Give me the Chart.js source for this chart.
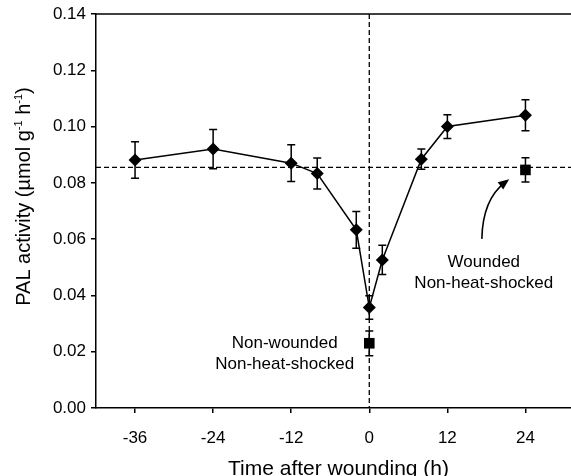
<!DOCTYPE html>
<html>
<head>
<meta charset="utf-8">
<script src="https://cdn.jsdelivr.net/npm/chart.js@4/dist/chart.umd.min.js"></script>
<style>
  body { margin: 0; background: #fff; }
  canvas { display: block; }
</style>
</head>
<body>
<canvas id="myChart" width="571" height="476"></canvas>
<script>
// wounded, non-heat-shocked series (diamonds)
const woundX = [-36, -24, -12, -8, -2, 0, 2, 8, 12, 24];
const woundY = [0.0881, 0.0920, 0.0870, 0.0833, 0.0633, 0.0357, 0.0526, 0.0884, 0.1000, 0.1040];
const woundErr = [0.0065, 0.0070, 0.0065, 0.0055, 0.0065, 0.0042, 0.0052, 0.0036, 0.0042, 0.0055];

// controls (squares)
const ctrlX = [0, 24];
const ctrlY = [0.0230, 0.0846];
const ctrlErr = [0.0044, 0.0043];

// reference lines
const baseLevel = 0.0855;
const woundTime = 0;

const xTicks = [-36, -24, -12, 0, 12, 24];
const yTicks = [0, 0.02, 0.04, 0.06, 0.08, 0.10, 0.12, 0.14];

// annotation texts, in data units
const notes = [
  { x: 17.6, y: 0.0519, text: 'Wounded' },
  { x: 17.6, y: 0.0443, text: 'Non-heat-shocked' },
  { x: -13.0, y: 0.0231, text: 'Non-wounded' },
  { x: -13.0, y: 0.0156, text: 'Non-heat-shocked' }
];
// arrow path, in data units: start, control 1, control 2, tip
const arrowPts = [[17.3, 0.0601], [17.4, 0.0722], [19.3, 0.0774], [21.5, 0.0813]];

const FONT = '"Liberation Sans", Arial, sans-serif';

function toPts(xs, ys) {
  return xs.map((x, i) => ({ x: x, y: ys[i] }));
}

const extras = {
  id: 'extras',
  beforeDatasetsDraw(chart) {
    const ctx = chart.ctx;
    const xs = chart.scales.x, ys = chart.scales.y;
    const a = chart.chartArea;
    ctx.save();
    // top frame line
    ctx.strokeStyle = '#000';
    ctx.lineWidth = 1.5;
    ctx.beginPath();
    ctx.moveTo(a.left, a.top);
    ctx.lineTo(a.right, a.top);
    ctx.stroke();
    // dashed reference lines
    ctx.lineWidth = 1.3;
    ctx.setLineDash([5, 3]);
    ctx.beginPath();
    ctx.moveTo(a.left, ys.getPixelForValue(baseLevel));
    ctx.lineTo(a.right, ys.getPixelForValue(baseLevel));
    ctx.moveTo(xs.getPixelForValue(woundTime), a.top);
    ctx.lineTo(xs.getPixelForValue(woundTime), a.bottom);
    ctx.stroke();
    ctx.setLineDash([]);
    // error bars
    ctx.lineWidth = 1.5;
    const bars = (X, Y, E) => {
      X.forEach((x, i) => {
        const px = xs.getPixelForValue(x);
        const top = ys.getPixelForValue(Y[i] + E[i]);
        const bot = ys.getPixelForValue(Y[i] - E[i]);
        ctx.beginPath();
        ctx.moveTo(px, top); ctx.lineTo(px, bot);
        ctx.moveTo(px - 4, top); ctx.lineTo(px + 4, top);
        ctx.moveTo(px - 4, bot); ctx.lineTo(px + 4, bot);
        ctx.stroke();
      });
    };
    bars(woundX, woundY, woundErr);
    bars(ctrlX, ctrlY, ctrlErr);
    // arrow
    const p = arrowPts.map(q => [xs.getPixelForValue(q[0]), ys.getPixelForValue(q[1])]);
    ctx.lineWidth = 1.6;
    ctx.beginPath();
    ctx.moveTo(p[0][0], p[0][1]);
    ctx.bezierCurveTo(p[1][0], p[1][1], p[2][0], p[2][1], p[3][0] - 4, p[3][1] + 3);
    ctx.stroke();
    const ang = Math.atan2(p[3][1] - p[2][1], p[3][0] - p[2][0]);
    ctx.fillStyle = '#000';
    ctx.beginPath();
    ctx.moveTo(p[3][0], p[3][1]);
    ctx.lineTo(p[3][0] - 11 * Math.cos(ang) + 4.5 * Math.sin(ang), p[3][1] - 11 * Math.sin(ang) - 4.5 * Math.cos(ang));
    ctx.lineTo(p[3][0] - 11 * Math.cos(ang) - 4.5 * Math.sin(ang), p[3][1] - 11 * Math.sin(ang) + 4.5 * Math.cos(ang));
    ctx.closePath();
    ctx.fill();
    // notes
    ctx.font = '17px ' + FONT;
    ctx.textAlign = 'center';
    ctx.textBaseline = 'middle';
    notes.forEach(n => ctx.fillText(n.text, xs.getPixelForValue(n.x), ys.getPixelForValue(n.y)));
    ctx.restore();
  },
  afterDraw(chart) {
    const ctx = chart.ctx;
    const a = chart.chartArea;
    ctx.save();
    ctx.fillStyle = '#000';
    ctx.textBaseline = 'alphabetic';
    // x title
    ctx.font = '21px ' + FONT;
    ctx.textAlign = 'center';
    ctx.fillText('Time after wounding (h)', (a.left + a.right) / 2 + 5, 475);
    // y title with superscripts
    const parts = [
      ['PAL activity (\u00b5mol g', false], ['-1', true], [' h', false], ['-1', true], [')', false]
    ];
    const big = '20px ' + FONT, small = '11px ' + FONT;
    let total = 0;
    parts.forEach(pt => { ctx.font = pt[1] ? small : big; total += ctx.measureText(pt[0]).width; });
    ctx.translate(29.5, 196.5);
    ctx.rotate(-Math.PI / 2);
    ctx.textAlign = 'left';
    let x = -total / 2;
    parts.forEach(pt => {
      ctx.font = pt[1] ? small : big;
      ctx.fillText(pt[0], x, pt[1] ? -8 : 0);
      x += ctx.measureText(pt[0]).width;
    });
    ctx.restore();
  }
};

const ctx = document.getElementById('myChart').getContext('2d');
const chart = new Chart(ctx, {
  type: 'scatter',
  data: {
    datasets: [
      {
        label: 'Wounded',
        data: toPts(woundX, woundY),
        showLine: true,
        borderColor: '#000',
        borderWidth: 1.5,
        backgroundColor: '#000',
        pointStyle: 'rectRot',
        pointRadius: 6.5,
        pointBorderWidth: 0,
        tension: 0
      },
      {
        label: 'Control',
        data: toPts(ctrlX, ctrlY),
        showLine: false,
        backgroundColor: '#000',
        borderColor: '#000',
        pointStyle: 'rect',
        pointRadius: 7.5,
        pointBorderWidth: 0
      }
    ]
  },
  options: {
    responsive: false,
    animation: false,
    devicePixelRatio: 1,
    layout: { autoPadding: false, padding: { top: 14, right: 0, left: 0, bottom: 0 } },
    plugins: { legend: { display: false }, tooltip: { enabled: false } },
    scales: {
      x: {
        type: 'linear',
        min: -42,
        max: 31,
        afterBuildTicks: s => { s.ticks = xTicks.map(v => ({ value: v })); },
        afterFit: s => { s.height = 68; s.paddingLeft = 0; s.paddingRight = 0; },
        grid: { drawOnChartArea: false, color: '#000', lineWidth: 1.5, tickLength: 5 },
        border: { color: '#000', width: 1.5 },
        ticks: { color: '#000', font: { size: 17, family: FONT }, padding: 15, maxRotation: 0 }
      },
      y: {
        min: 0,
        max: 0.14,
        afterBuildTicks: s => { s.ticks = yTicks.map(v => ({ value: v })); },
        afterFit: s => { s.width = 96; s.paddingTop = 0; s.paddingBottom = 0; },
        grid: { drawOnChartArea: false, color: '#000', lineWidth: 1.5, tickLength: 5 },
        border: { color: '#000', width: 1.5 },
        ticks: { color: '#000', font: { size: 17, family: FONT }, padding: 5, callback: v => v.toFixed(2) }
      }
    }
  },
  plugins: [extras]
});
</script>
</body>
</html>
